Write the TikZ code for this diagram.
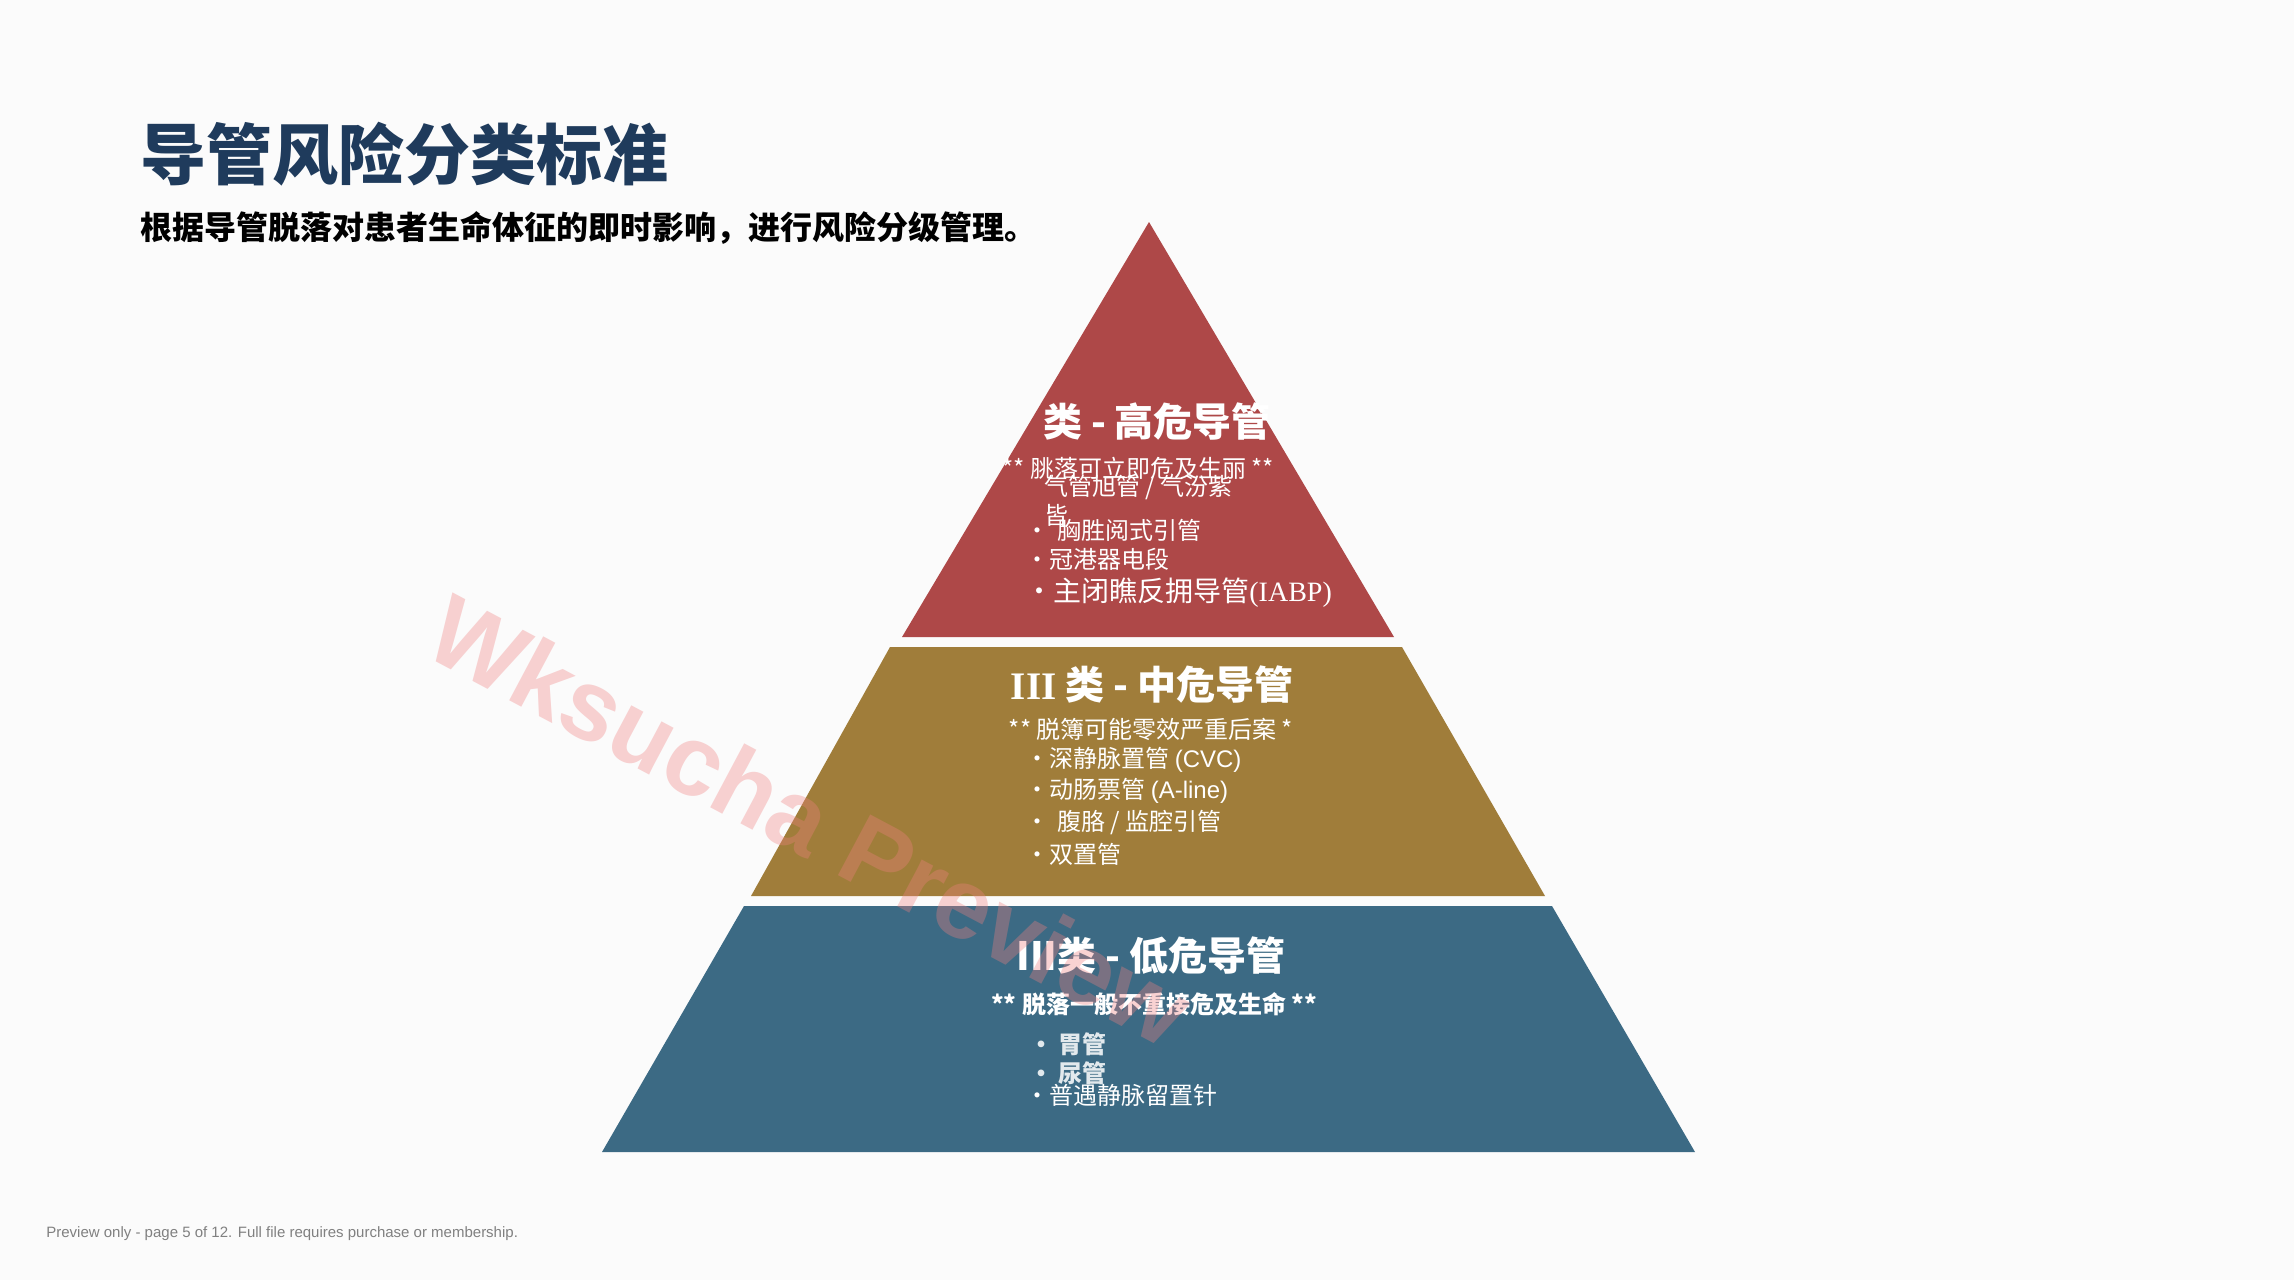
\documentclass[tikz,border=0pt]{standalone}
\usepackage{fontspec}
\setmainfont{Noto Sans CJK SC}
\newfontfamily\serifx{Liberation Serif}
\newfontfamily\sansx{Liberation Sans}
\definecolor{titleblue}{HTML}{1F3B5C}
\definecolor{tred}{HTML}{AE4848}
\definecolor{tgold}{HTML}{A07D3A}
\definecolor{tblue}{HTML}{3C6A84}
\definecolor{wm}{HTML}{F08080}
\tikzset{
  tiertitle/.style={text=white,font=\fontsize{19.5}{22}\selectfont\bfseries,anchor=center},
  tiersub/.style={text=white,font=\fontsize{12}{14}\selectfont,anchor=center},
  item/.style={text=white,font=\fontsize{12}{14}\selectfont,anchor=west,inner sep=0pt},
}
\begin{document}
\begin{tikzpicture}[x=0.5pt,y=-0.5pt]
\useasboundingbox (0,0) rectangle (2294,1280);
\fill[white!97!gray] (0,0) rectangle (2294,1280);
\node[anchor=west,text=titleblue,font=\fontsize{33}{36}\selectfont\bfseries,inner sep=0pt] (title) at (140,154) {导管风险分类标准};
\node[anchor=west,text=black,font=\fontsize{16}{18}\selectfont\bfseries,inner sep=0pt] (sub) at (140,228) {根据导管脱落对患者生命体征的即时影响，进行风险分级管理。};
% tiers
\fill[tred] (1149,222) -- (1394,637) -- (902,637) -- cycle;
\fill[tgold] (890,647) -- (1402,647) -- (1545,896) -- (751,896) -- cycle;
\fill[tblue] (744,906) -- (1552,906) -- (1695,1152) -- (602,1152) -- cycle;
% red
\node[tiertitle] (r1) at (1157,422) {类 - 高危导管};
\node[tiersub] (r2) at (1138,468) {** 脁落可立即危及生丽 **};
\node[item] (r3) at (1044,488) {气管旭管 / 气汾紫};
\node[item] (r4) at (1044,515) {皆};
\node[item] (r5) at (1025,530) {·\,\,胸胜阅式引管};
\node[item] (r6) at (1025,559) {·冠港器电段};
\node[item,font=\fontsize{14}{16}\selectfont] (r7) at (1025,593) {·主闭瞧反拥导管{\serifx (IABP)}};
% gold
\node[tiertitle] (g1) at (1152,685) {{\serifx III} 类 - 中危导管};
\node[tiersub] (g2) at (1151,729) {** 脱簿可能零效严重后案 *};
\node[item] (g3) at (1025,760) {·深静脉置管 {\sansx (CVC)}};
\node[item] (g4) at (1025,791) {·动肠票管 {\sansx (A-line)}};
\node[item] (g5) at (1025,823) {·\,\,腹胳 / 监腔引管};
\node[item] (g6) at (1025,854) {·双置管};
% blue
\node[tiertitle] (b1) at (1151,956) {III类 - 低危导管};
\node[tiersub,font=\fontsize{12}{14}\selectfont\bfseries] (b2) at (1154,1004) {** 脱落一般不重接危及生命 **};
\node[item,font=\fontsize{12}{14}\selectfont\bfseries,text=white!85!tblue] (b3) at (1029,1044) {• 胃管};
\node[item,font=\fontsize{12}{14}\selectfont\bfseries,text=white!85!tblue] (b4) at (1029,1073) {• 尿管};
\node[item] (b5) at (1025,1095) {·普遇静脉留置针};
% watermark
\node[text=wm,opacity=0.35,rotate=-28,font=\sansx\fontsize{50}{54}\selectfont\bfseries] (wmk) at (810,820) {Wksucha Preview};
\node[anchor=west,text=gray,font=\sansx\fontsize{7.5}{9}\selectfont,inner sep=0pt] (foot) at (46,1234) {Preview only - page 5 of 12. Full file requires purchase or membership.};
\end{tikzpicture}
\end{document}
